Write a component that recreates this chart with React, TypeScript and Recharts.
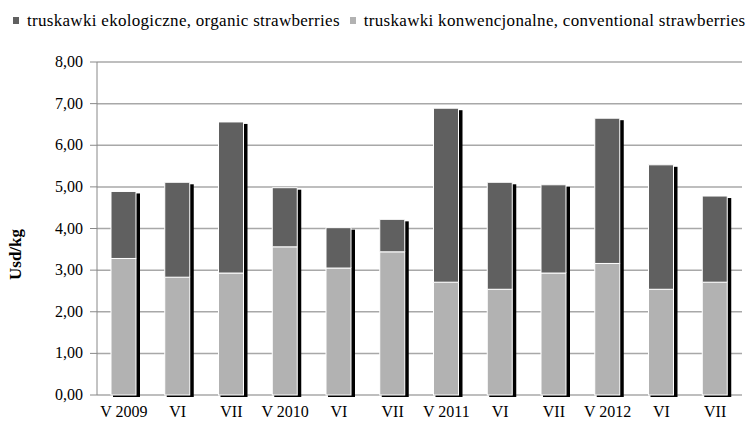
import { Bar, BarChart, CartesianGrid, XAxis, YAxis } from 'recharts'

const months = ['V 2009', 'VI', 'VII', 'V 2010', 'VI', 'VII', 'V 2011', 'VI', 'VII', 'V 2012', 'VI', 'VII']
const conventional = [3.28, 2.83, 2.93, 3.56, 3.05, 3.44, 2.71, 2.54, 2.93, 3.16, 2.54, 2.71]
const organic = [1.61, 2.28, 3.63, 1.42, 0.97, 0.78, 4.18, 2.57, 2.12, 3.49, 2.99, 2.07]
const yTicks = [0, 1, 2, 3, 4, 5, 6, 7, 8]

const DARK = '#606060'
const LIGHT = '#b2b2b2'
const FONT = 'Liberation Serif, Times New Roman, serif'

const rows = months.map((m, i) => ({
  month: m,
  conventional: conventional[i],
  organic: organic[i],
}))

// conventional bar is drawn first, so it also paints the drop shadow of the whole stack
function ConvShape(props: any) {
  const { x, y, width, height, payload } = props
  const ppu = height / payload.conventional
  const bottom = y + height
  const top = bottom - (payload.conventional + payload.organic) * ppu
  return (
    <g>
      <rect x={x + 2} y={top + 2} width={width + 2} height={bottom - top} fill="#000" />
      <rect x={x} y={y} width={width} height={height} fill={LIGHT} stroke="#fff" strokeWidth={1} />
    </g>
  )
}

function XTick(props: any) {
  const { x, y, payload } = props
  return (
    <text x={x} y={y + 14} textAnchor="middle" style={{ fontFamily: FONT, fontSize: 16, fill: '#000' }}>
      {payload.value}
    </text>
  )
}

function YTick(props: any) {
  const { x, y, payload } = props
  return (
    <text x={x - 1} y={y + 5} textAnchor="end" style={{ fontFamily: FONT, fontSize: 16, fill: '#000' }}>
      {Number(payload.value).toFixed(2).replace('.', ',')}
    </text>
  )
}

function LegendBox() {
  const item = (color: string, label: string, gap: number) => (
    <span style={{ display: 'inline-flex', alignItems: 'center', marginRight: gap }}>
      <span style={{ width: 6, height: 7, background: color, display: 'inline-block', marginRight: 8 }} />
      {label}
    </span>
  )
  return (
    <div
      style={{
        position: 'absolute',
        top: 8,
        left: 13,
        fontFamily: FONT,
        fontSize: 17,
        letterSpacing: 0.3,
        color: '#000',
        whiteSpace: 'nowrap',
        lineHeight: '22px',
      }}
    >
      {item(DARK, 'truskawki ekologiczne, organic strawberries', 10)}
      {item(LIGHT, 'truskawki konwencjonalne, conventional strawberries', 0)}
    </div>
  )
}

export default function App() {
  document.body.style.margin = '0'
  return (
    <div style={{ position: 'relative', width: 751, height: 428, background: '#fff', fontFamily: FONT }}>
      <BarChart
        width={751}
        height={428}
        data={rows}
        margin={{ top: 62, right: 9, bottom: 3, left: 0 }}
        barSize={25}
      >
        <CartesianGrid vertical={false} stroke="#a8a8a8" strokeWidth={1.5} />
        <XAxis dataKey="month" height={30} axisLine={false} tickLine={false} interval={0} tick={<XTick />} />
        <YAxis
          width={97}
          domain={[0, 8]}
          ticks={yTicks}
          interval={0}
          tickSize={7}
          tickMargin={6}
          stroke="#888"
          tick={<YTick />}
          label={{
            value: 'Usd/kg',
            angle: -90,
            position: 'insideLeft',
            dx: 10,
            dy: 26,
            style: { fontFamily: FONT, fontSize: 17, fontWeight: 'bold', fill: '#000', textAnchor: 'middle' },
          }}
        />
        <Bar dataKey="conventional" stackId="a" shape={<ConvShape />} isAnimationActive={false} />
        <Bar dataKey="organic" stackId="a" fill={DARK} stroke="#fff" strokeWidth={1} isAnimationActive={false} />
      </BarChart>
      <LegendBox />
    </div>
  )
}
